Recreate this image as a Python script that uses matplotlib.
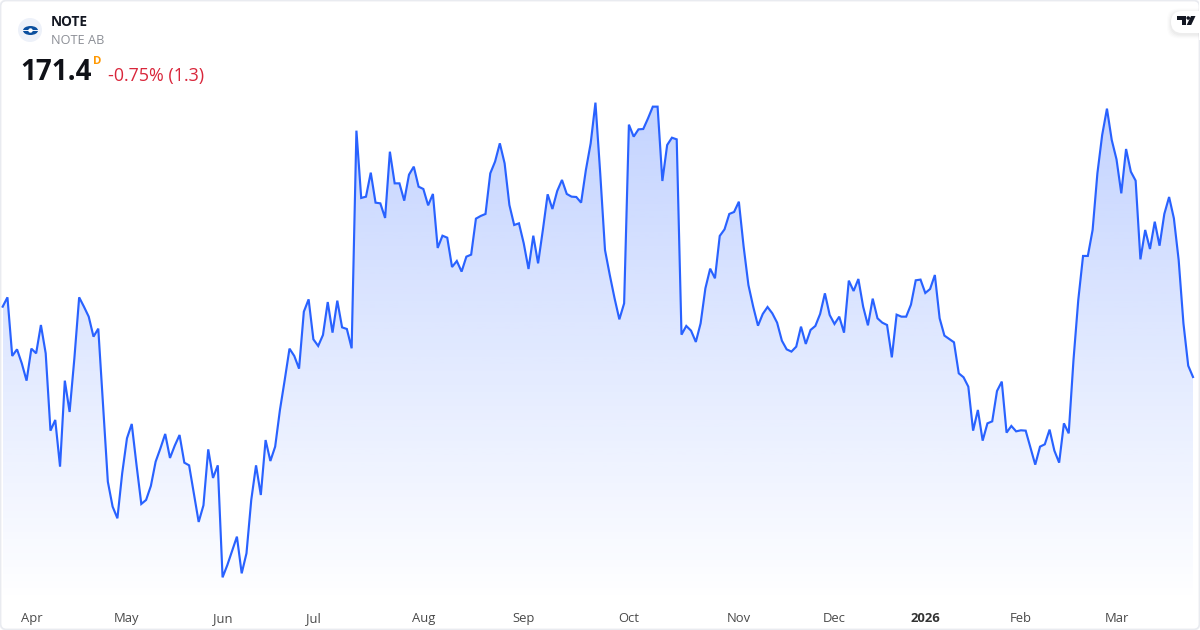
import numpy as np
import matplotlib
matplotlib.use("Agg")
import matplotlib.pyplot as plt
from matplotlib.patches import FancyBboxPatch, Circle, Ellipse, Polygon, Rectangle

plt.rcParams['font.family'] = ['Open Sans', 'Noto Sans', 'DejaVu Sans']

symbol = "NOTE"
company = "NOTE AB"
last_price = "171.4"
interval = "D"
change = "-0.75% (1.3)"

apr_jul = [179.49,180.56,173.82,174.58,172.97,170.98,174.66,174.12,177.38,174.12,165.23,166.46,161.09,170.98,167.38,173.55,
 180.56,179.49,178.34,176.04,176.96,168.18,159.36,156.49,155.15,160.32,164.35,166.00,161.28,156.80,157.26,158.87,161.67,
 163.20,164.85,162.09,163.51,164.73,161.55,161.24,158.02,154.73,156.64,163.08,159.79,161.24,148.36,149.78,151.43,153.04,
 148.82,151.12,157.26,161.24,157.83,164.15,161.74,163.39,167.61,171.06,174.66,173.82,172.36,178.91,180.33,175.73,174.97,
 176.23,180.02,176.50,180.18,177.11,176.92,174.70]
jul_oct = [199.73,191.99,192.14,194.90,191.45,191.37,189.69,197.31,193.67,193.67,191.68,194.67,195.59,193.29,193.02,191.14,
 192.45,186.24,187.65,187.42,184.05,184.74,183.52,185.24,185.47,189.61,189.92,190.15,194.82,196.17,198.27,195.97,191.18,
 188.88,189.07,186.77,183.82,187.65,184.47,188.31,192.41,190.72,192.79,194.06,192.45,192.14,192.10,191.45,195.21,198.27,
 202.95,194.82,186.00,183.13,180.45,178.03,179.87,200.42,199.04,199.88,199.92,201.15,202.49,202.49,193.94,198.08,198.92,198.73]
oct_jan = [176.27,177.27,176.73,175.43,177.57,181.60,183.86,182.75,187.62,188.38,190.15,190.38,191.56,186.39,181.98,179.49,
 177.30,178.65,179.45,178.72,177.65,175.58,174.58,174.32,174.89,177.19,175.20,176.81,177.27,178.65,181.02,178.53,177.50,
 178.34,176.50,182.48,181.29,182.67,179.49,177.34,180.41,178.15,177.65,177.38,173.66,178.57,178.34,178.34,179.72,182.52,
 182.60,181.06,181.52,183.13,178.15]
jan_mar = [176.16,175.77,175.39,171.82,171.37,170.29,165.23,167.61,164.08,166.07,166.30,169.79,170.87,165.00,165.77,165.15,
 165.27,165.23,163.28,161.32,163.39,163.66,165.35,162.93,161.55,166.07,164.92,173.36,180.26,185.32,185.32,188.31,194.82,
 199.23,202.26,198.66,196.43,192.52,197.62,195.01,193.98,184.93,188.31,186.12,189.26,186.50,190.15,192.10,189.65,184.86,
 177.57,172.70,171.40]
prices = np.array(apr_jul + jul_oct + oct_jan + jan_mar)
sessions = np.arange(len(prices))

month_labels = ["Apr","May","Jun","Jul","Aug","Sep","Oct","Nov","Dec","2026","Feb","Mar"]
month_sessions = [6,26,46,65,88,109,131,154,174,193,213,233]

W, H = 1200, 630
fig = plt.figure(figsize=(W/100, H/100), dpi=100, facecolor="white")

bg = fig.add_axes([0,0,1,1], zorder=0)
bg.set_xlim(0,W); bg.set_ylim(H,0); bg.axis("off")
bg.add_patch(FancyBboxPatch((0.5,0.5),W-1,H-1,boxstyle="round,pad=0,rounding_size=6",fc="white",ec="#e9ebf0",lw=1.3))

left_px, right_px, bottom_px = 2.67, 1193.0, 603
step = (right_px-left_px)/(len(prices)-1)
k = 0.115
ax = fig.add_axes([0,1-bottom_px/H,1,bottom_px/H], zorder=1)
ax.patch.set_alpha(0)
ax.set_xlim(-left_px/step, (W-left_px)/step)
ax.set_ylim(171.4-(bottom_px-377)*k, 171.4+377*k)
for s in ax.spines.values():
    s.set_visible(False)
ax.set_yticks([])
ax.set_xticks(month_sessions)
ax.set_xticklabels(month_labels)
ax.tick_params(axis='x', length=0, pad=13.4, labelsize=9.4, labelcolor="#4a4a4a")
for lab in ax.get_xticklabels():
    lab.set_verticalalignment("baseline")
    if lab.get_text()=="2026":
        lab.set_fontweight("bold"); lab.set_color("#333333")

top, base = prices.max(), ax.get_ylim()[0]
n = 256
grad = np.zeros((n,1,4))
grad[...,0], grad[...,1], grad[...,2] = 41/255, 98/255, 1.0
grad[:,0,3] = np.linspace(0.28, 0.0, n)
im = ax.imshow(grad, extent=[sessions[0],sessions[-1],base,top], aspect="auto", origin="upper", zorder=1, interpolation="bilinear")
poly = Polygon(np.vstack([[sessions[0],base],np.c_[sessions,prices],[sessions[-1],base]]), transform=ax.transData, fc="none", ec="none")
ax.add_patch(poly)
im.set_clip_path(poly)
ax.set_xlim(-left_px/step, (W-left_px)/step)
ax.set_ylim(171.4-(bottom_px-377)*k, 171.4+377*k)
ax.plot(sessions, prices, color="#2962ff", lw=1.55, solid_joinstyle="miter", zorder=2)

fg = fig.add_axes([0,0,1,1], zorder=3)
fg.set_xlim(0,W); fg.set_ylim(H,0); fg.axis("off"); fg.patch.set_alpha(0)
fg.add_patch(Circle((30,30),12,fc="#edf1f9",ec="none"))
fg.add_patch(Ellipse((30.5,30.5),15,9,fc="#0b4f9e",ec="none"))
fg.add_patch(Rectangle((23,29.7),15,1.6,fc="#edf1f9",ec="none"))
fg.add_patch(Circle((30.5,30.5),2.2,fc="white",ec="none"))
fg.text(51,21.5,symbol,fontsize=9.8,fontweight="bold",color="#131722",va="center",ha="left")
fg.text(51,41,company,fontsize=9.2,color="#8c8f96",va="center",ha="left")
fg.text(20,72,last_price,fontsize=20,fontweight="bold",color="#0f1117",va="center",ha="left")
fg.text(93,61,interval,fontsize=8.2,fontweight="bold",color="#ff9800",va="center",ha="left")
fg.text(108,75.5,change,fontsize=12.9,color="#d9263b",va="center",ha="left")

for off,a in [(4,0.012),(3,0.015),(2,0.02),(1,0.025)]:
    fg.add_patch(FancyBboxPatch((1171-off,11-off+1.5),40+2*off,22+2*off,boxstyle="round,pad=0,rounding_size=11",fc="black",alpha=a,ec="none"))
fg.add_patch(FancyBboxPatch((1171,11),40,22,boxstyle="round,pad=0,rounding_size=11",fc="white",ec="none"))
fg.add_patch(Rectangle((1199,0),1,40,fc="white",ec="none"))
fg.add_patch(Polygon([(1177,16),(1185.5,16),(1185.5,25),(1181.5,25),(1181.5,20),(1177,20)],fc="#131722",ec="none"))
fg.add_patch(Circle((1188.2,18),1.8,fc="#131722",ec="none"))
fg.add_patch(Polygon([(1191,16),(1195.5,16),(1191.2,25),(1186.7,25)],fc="#131722",ec="none"))

fig.savefig("out.png", dpi=100)
